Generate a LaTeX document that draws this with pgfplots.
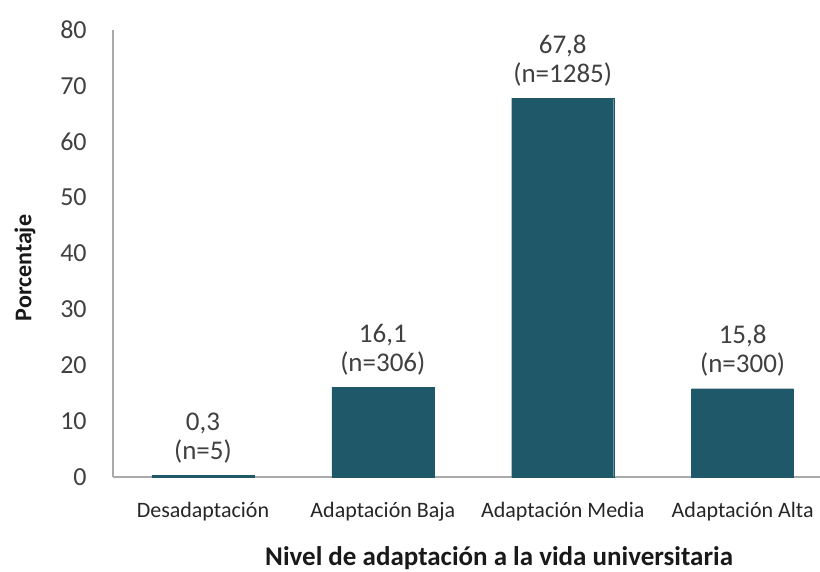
\documentclass[border=0pt]{standalone}
\usepackage{pgfplots}
\pgfplotsset{compat=1.18}
\usepackage{fontspec}
\setmainfont{Carlito}
\definecolor{barteal}{RGB}{31,88,104}
\definecolor{txtgray}{RGB}{64,64,64}
\definecolor{axgray}{RGB}{170,170,170}
\begin{document}
\begin{tikzpicture}[x=1pt,y=1pt]
\useasboundingbox (0,0) rectangle (820,572);
\begin{axis}[
    at={(113pt,95pt)}, anchor=south west,
    scale only axis,
    width=707pt, height=447pt,
    xmin=-0.5, xmax=3.43,
    ymin=0, ymax=80,
    ytick distance=10,
    xtick={0,1,2,3},
    xticklabels={Desadaptación, Adaptación Baja, Adaptación Media, Adaptación Alta},
    axis x line=bottom, axis y line=left,
    axis line style={-, draw=axgray, line width=1.3pt},
    major tick style={draw=none},
    /pgf/number format/assume math mode=true,
    yticklabel style={font=\fontsize{26}{30}\selectfont, text=txtgray, anchor=east, inner sep=0pt, xshift=-24pt},
    xticklabel style={font=\fontsize{22}{26}\selectfont, text=black!85, anchor=north, inner sep=0pt, yshift=-21pt},
    ylabel={Porcentaje},
    ylabel style={font=\fontsize{24}{28}\selectfont\bfseries, text=black!90, at={(axis cs:-0.5,37.4)}, anchor=center, yshift=88pt},
    xlabel={Nivel de adaptación a la vida universitaria},
    xlabel style={font=\fontsize{27}{32}\selectfont\bfseries, text=black!90, at={(axis cs:1.646,0)}, anchor=center, yshift=-81pt},
    ybar, bar width=102pt,
    nodes near coords,
    point meta=explicit symbolic,
    every node near coord/.append style={font=\fontsize{27}{29}\selectfont, text=txtgray, align=center, anchor=south, inner sep=0pt, yshift=12pt},
    clip=false,
]
\addplot[fill=barteal, draw=barteal] coordinates {
    (0,0.3) [{0,3\\(n=5)}]
    (1,16.1) [{16,1\\(n=306)}]
    (2,67.8) [{67,8\\(n=1285)}]
    (3,15.8) [{15,8\\(n=300)}]
};
\end{axis}
\end{tikzpicture}
\end{document}
